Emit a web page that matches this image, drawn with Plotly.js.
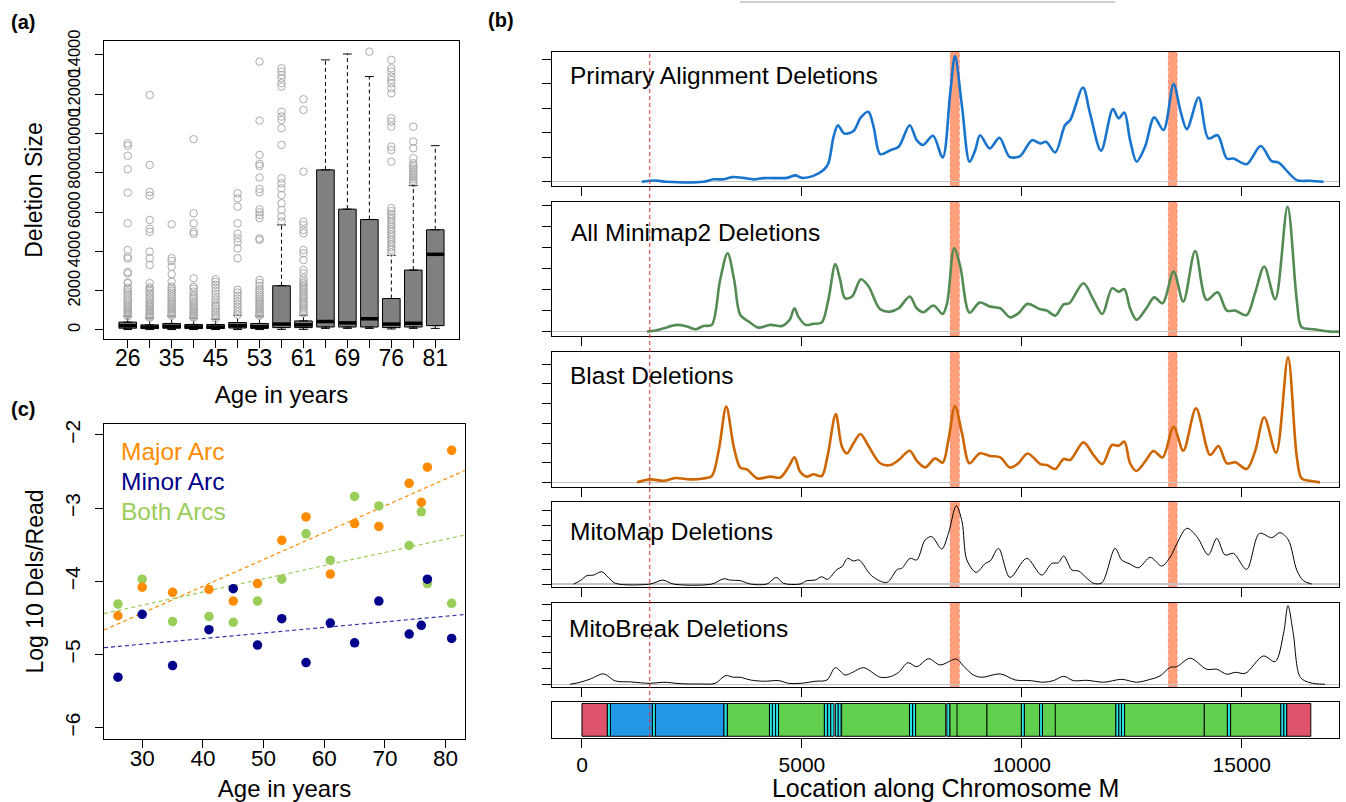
<!DOCTYPE html>
<html><head><meta charset="utf-8">
<script src="https://cdn.plot.ly/plotly-3.0.1.min.js"></script>
<style>html,body{margin:0;padding:0;background:#fff}#chart{width:1346px;height:802px}</style>
</head><body><div id="chart"></div>
<script>
// ---------- Panel (a): deletion size by age ----------
const ages = [26,30,35,41,45,49,53,57,61,65,69,74,76,77,81];
const ageTickText = ['26','','35','','45','','53','','61','','69','','76','','81'];
const boxQ1   = [90,70,90,70,70,100,80,120,120,150,150,150,120,150,220];
const boxMed  = [220,140,180,150,150,220,170,300,260,430,360,570,300,340,3850];
const boxQ3   = [400,260,330,280,280,380,330,2250,460,8150,6150,5620,1600,3050,5100];
const whiskLow  = [20,20,20,20,20,20,20,30,30,80,80,80,50,80,80];
const whiskHigh = [700,600,700,600,550,750,700,5350,750,13750,14050,12900,3800,7350,9380];
const outliers = [
  [700,760,820,880,950,1020,1100,1180,1260,1350,1450,1550,1650,1750,1850,1950,2050,2150,2380,2420,2880,2950,3630,3720,4070,5430,6990,8180,8870,9380,9500],
  [620,680,740,800,870,940,1010,1080,1160,1240,1320,1400,1500,1600,1700,1800,1900,2000,2100,2170,2380,3310,3650,3990,5000,5150,5600,6840,7020,8400,11960],
  [720,780,840,900,970,1040,1110,1180,1260,1340,1420,1500,1600,1700,1800,1900,2000,2100,2200,2460,2840,3220,3510,3650,5380],
  [620,680,740,800,860,920,990,1060,1140,1220,1310,1400,1500,1600,1700,1800,1950,2100,2200,2630,4890,5000,5430,5940,9710],
  [580,680,780,880,980,1080,1180,1280,1420,1560,1700,1850,2000,2150,2300,2450,2580],
  [780,900,1040,1180,1320,1460,1600,1750,1900,2040,3650,4150,4470,4670,4900,5430,6280,6700,6960],
  [720,780,840,900,970,1040,1110,1180,1260,1340,1420,1500,1600,1700,1800,1900,2000,2100,2250,2400,2550,4580,4660,5690,5850,5990,6140,7010,7180,7760,8350,8450,8910,10660,13660],
  [5520,5770,6110,6450,6870,7210,7470,7720,9420,10270,10690,10860,11110,12390,12560,12810,12980,13150,13320],
  [850,940,1030,1120,1210,1300,1390,1480,1570,1660,1750,1840,1930,2020,2110,2200,2290,2380,2470,2630,2885,3055,3560,3900,4070,4920,5090,5345,5515,8060,11200,11745],
  [],
  [],
  [14170],
  [3950,4080,4210,4340,4470,4600,4730,4860,4990,5120,5250,5380,5510,5640,5770,5900,6050,6200,8570,9160,9330,10350,10600,10780,12050,12300,12560,12730,12900,13150,13320,13750],
  [7480,7580,7680,7780,7880,7980,8080,8180,8280,8380,8490,8740,9250,9590,10350],
  []
];

// ---------- Panel (c): log10 deletions per read ----------
const majorArc = [-4.47,-4.08,-4.15,-4.11,-4.27,-4.03,-3.44,-3.12,-3.90,-3.21,-3.25,-2.66,-2.92,-2.44,-2.21];
const minorArc = [-5.31,-4.45,-5.15,-4.66,-4.10,-4.87,-4.51,-5.11,-4.57,-4.84,-4.27,-4.72,-4.60,-3.97,-4.78];
const bothArcs = [-4.31,-3.97,-4.55,-4.48,-4.56,-4.27,-3.97,-3.35,-3.71,-2.84,-2.97,-3.51,-3.05,-4.03,-4.30];
const arcNames = ['Major Arc','Minor Arc','Both Arcs'];

// ---------- Panel (b): deletion densities along chrM ----------
const primaryPos  = [1360,1670,1930,2760,2990,3220,3410,3670,3900,4130,4660,4850,5000,5260,5490,5600,5720,5820,5960,6170,6340,6510,6630,6780,7010,7200,7450,7610,7750,7980,8200,8370,8480,8640,8810,8940,9050,9270,9490,9720,9960,10230,10420,10550,10760,10980,11100,11390,11550,11800,12070,12200,12330,12460,12610,12800,13010,13220,13450,13600,13750,14020,14240,14450,14660,14810,15110,15430,15680,15830,16250,16550,16860];
const primaryDens = [0,0.05,0,0,0.1,0.1,0.19,0.16,0.1,0.15,0.16,0.26,0.16,0.24,0.48,0.75,1.84,2.31,1.97,2.07,2.63,2.86,2.24,1.13,1.29,1.43,2.31,1.70,1.50,1.88,0.99,3.6,5.13,3.06,0.82,1.29,1.90,1.36,1.80,1.02,1.05,1.70,1.56,1.63,1.20,2.31,2.52,3.85,2.79,1.27,2.97,2.59,2.83,1.70,0.82,1.43,2.63,2.11,3.99,2.93,2.15,3.44,1.77,1.90,0.95,0.95,0.72,1.46,0.84,0.79,0.07,0.04,0];
const minimapPos  = [1480,1670,1860,2160,2390,2580,2760,2950,3140,3310,3460,3600,3790,4010,4280,4550,4720,4830,4920,5080,5260,5450,5600,5760,5870,5980,6140,6340,6510,6780,7010,7200,7450,7610,7760,7990,8200,8300,8460,8600,8810,9040,9280,9510,9730,9920,10130,10420,10570,10760,10950,11080,11400,11630,11830,12050,12200,12330,12460,12610,12830,13010,13200,13450,13670,13940,14200,14450,14660,14850,15110,15300,15510,15760,16040,16250,16360,16630,17010,17210];
const minimapDens = [0,0.05,0.16,0.32,0.24,0.11,0.27,0.32,2.46,3.73,2.46,0.79,0.48,0.19,0.32,0.27,0.56,1.11,0.71,0.32,0.37,0.43,1.51,3.22,2.46,1.59,1.67,2.49,2.17,1.06,0.95,1.11,1.67,1.11,0.92,1.24,0.84,1.35,3.97,3.10,0.90,1.38,1.19,1.11,0.68,0.87,1.32,1.06,1.0,0.76,1.30,1.35,2.30,1.51,0.84,2.06,1.90,2.02,1.11,0.56,1.11,1.63,1.35,2.86,1.43,3.84,1.51,1.87,1.0,1.0,0.79,1.83,3.10,1.54,5.95,1.51,0.21,0.11,0,0];
const blastPos  = [1250,1550,1860,2120,2460,2760,2950,3110,3280,3450,3600,3750,3990,4280,4510,4700,4830,4960,5110,5260,5450,5580,5770,5910,6020,6170,6330,6510,6780,7010,7200,7450,7610,7800,8030,8200,8330,8480,8640,8810,9040,9280,9510,9730,9920,10130,10420,10570,10760,10950,11100,11400,11630,11830,12050,12200,12330,12460,12600,12800,12990,13200,13450,13670,13960,14280,14470,14660,14850,15110,15300,15510,15780,16050,16250,16360,16550,16780];
const blastDens = [0,0.15,0.08,0.22,0.15,0.2,0.32,1.64,3.85,1.81,0.75,0.66,0.2,0.29,0.25,0.80,1.27,0.54,0.29,0.41,0.32,1.31,3.47,1.81,1.47,1.98,2.46,1.86,0.97,0.88,1.14,1.61,1.10,0.76,1.22,1.0,2.15,3.88,2.49,0.97,1.47,1.34,1.27,0.76,0.97,1.47,0.93,0.88,0.68,1.19,1.14,2.03,1.39,0.93,1.90,1.86,2.07,0.97,0.58,1.05,1.59,1.27,2.83,1.61,3.76,1.39,1.85,0.97,1.02,0.68,1.56,3.31,1.51,6.36,1.31,0.2,0.08,0];
const mitomapPos  = [-190,-40,110,260,450,600,760,1550,1840,2080,2950,3220,3370,3600,3830,4200,4420,4580,4960,5110,5300,5450,5580,5800,5910,6040,6170,6300,6590,6930,7170,7270,7460,7610,7800,7950,8180,8330,8510,8640,8750,8960,9170,9280,9470,9730,10110,10450,10680,10830,10950,11140,11290,11480,11630,11820,12120,12270,12460,12650,12920,13180,13370,13520,13750,13980,14240,14430,14620,14810,15110,15400,15680,15870,16060,16250,16400,16590];
const mitomapDens = [0,0.23,0.57,0.61,0.84,0.45,0.05,0,0.27,0,0,0.36,0.27,0.23,0,0,0.45,0.05,0,0.23,0.27,0.5,0.32,1.0,1.18,1.75,1.57,1.64,0.55,0.11,1.0,1.07,1.75,1.64,3.0,3.23,2.39,3.45,5.34,4.25,1.64,0.80,1.41,1.57,2.43,0.45,1.75,0.61,1.41,1.45,1.91,0.95,0.89,0.39,0.05,0.09,2.43,1.64,1.36,1.11,1.82,1.23,1.82,2.73,3.80,3.23,1.98,3.11,1.98,2.09,1.0,3.45,3.16,3.5,3.0,0.95,0.23,0];
const mitobreakPos  = [-270,-40,190,490,760,1100,1550,1860,2230,2690,3030,3260,3450,3600,3830,4130,4470,4700,5040,5300,5570,5760,5980,6140,6400,6780,7010,7200,7410,7610,7880,8140,8510,8670,8900,9090,9510,9850,10190,10490,10720,10950,11170,11480,11860,12270,12610,12920,13140,13370,13520,13830,14200,14430,14660,14850,15080,15490,15760,15950,16050,16170,16330,16550,16890];
const mitobreakDens = [0,0.13,0.33,0.65,0.21,0.15,0.06,0.13,0.04,0.02,0.06,0.54,0.44,0.44,0.27,0.19,0.23,0.06,0.08,0.19,0.27,1.04,0.58,0.73,1.04,0.44,0.48,0.75,1.35,1.10,1.60,1.21,1.58,1.15,0.58,0.44,0.65,0.27,0.23,0.13,0.23,0.5,0.23,0.25,0.13,0.31,0.13,0.31,0.52,1.06,1.10,1.63,0.94,0.94,0.63,0.75,0.69,1.77,1.42,3.19,4.92,3.19,0.44,0.10,0];
const densityTitles = ['Primary Alignment Deletions','All Minimap2 Deletions','Blast Deletions','MitoMap Deletions','MitoBreak Deletions'];
const bandStart = [8370,13330];
const bandEnd   = [8580,13530];
const markerPos = 1540;

// chrM annotation (rCRS)
const geneStart = [1,577,648,1602,1671,3230,3307,4263,4329,4402,4470,5512,5587,5657,5761,5826,5904,7446,7518,7586,8295,8366,8527,9207,9991,10059,10405,10470,10760,12138,12207,12266,12337,14149,14674,14747,15888,15956,16024];
const geneEnd   = [576,647,1601,1670,3229,3304,4262,4331,4400,4469,5511,5579,5655,5729,5826,5891,7445,7514,7585,8269,8364,8572,9207,9990,10058,10404,10469,10766,12137,12206,12265,12336,14148,14673,14742,15887,15953,16023,16569];
const geneType  = ['D','t','r','t','r','t','p','t','t','t','p','t','t','t','t','t','p','t','t','p','t','p','p','p','t','p','t','p','p','t','t','t','p','p','t','p','t','t','D'];

// ---------- helpers ----------
const W = 1346, H = 802;
const px = v => v / W;
const py = v => 1 - v / H;
const FONT = 'Liberation Sans, Arial, Helvetica, sans-serif';
const typeColor = {D:'#DF536B', t:'#28E2E5', r:'#2297E6', p:'#61D04F'};

const traces = [];
const boxPos = ages.map((a, i) => i + 1);

// boxes
traces.push({type:'box', x: boxPos, q1: boxQ1, median: boxMed, q3: boxQ3,
  lowerfence: boxQ1, upperfence: boxQ3, width: 0.8, boxpoints: false,
  fillcolor: '#808080', line: {color: '#000', width: 1}, xaxis: 'x', yaxis: 'y', hoverinfo: 'skip'});
const wx = [], wy = [], cx = [], cy = [], mx = [], my = [];
boxPos.forEach((p, i) => {
  wx.push(p, p, null, p, p, null);
  wy.push(boxQ3[i], whiskHigh[i], null, boxQ1[i], whiskLow[i], null);
  cx.push(p - 0.2, p + 0.2, null, p - 0.2, p + 0.2, null);
  cy.push(whiskHigh[i], whiskHigh[i], null, whiskLow[i], whiskLow[i], null);
  mx.push(p - 0.4, p + 0.4, null);
  my.push(boxMed[i], boxMed[i], null);
});
traces.push({type:'scatter', mode:'lines', x: wx, y: wy, line:{color:'#000', width:1, dash:'4px,3px'}, xaxis:'x', yaxis:'y'});
traces.push({type:'scatter', mode:'lines', x: cx, y: cy, line:{color:'#000', width:1}, xaxis:'x', yaxis:'y'});
traces.push({type:'scatter', mode:'lines', x: mx, y: my, line:{color:'#000', width:3.5}, xaxis:'x', yaxis:'y'});
const ox = [], oy = [];
outliers.forEach((arr, i) => arr.forEach(v => { ox.push(boxPos[i]); oy.push(v); }));
traces.push({type:'scatter', mode:'markers', x: ox, y: oy,
  marker:{symbol:'circle-open', size:7.5, color:'#ABABAB', line:{width:1, color:'#ABABAB'}}, xaxis:'x', yaxis:'y'});

// panel (c)
const arcSeries = [majorArc, minorArc, bothArcs];
const arcColors = ['#FF8C00', '#00008B', '#9ACD5A'];
const lineColors = ['#FF8C00', '#3333AA', '#9ACD5A'];
const cRange = [23.7, 83.2];
function ols(x, y) {
  const n = x.length;
  const mxv = x.reduce((a, b) => a + b, 0) / n, myv = y.reduce((a, b) => a + b, 0) / n;
  let sxx = 0, sxy = 0;
  for (let i = 0; i < n; i++) { sxx += (x[i] - mxv) ** 2; sxy += (x[i] - mxv) * (y[i] - myv); }
  const b = sxy / sxx; return [myv - b * mxv, b];
}
arcSeries.forEach((s, k) => {
  const [a, b] = ols(ages, s);
  traces.push({type:'scatter', mode:'lines', x: cRange, y: cRange.map(v => a + b * v),
    line:{color: lineColors[k], width:1.2, dash:'4px,3px'}, xaxis:'x2', yaxis:'y2'});
});
[2, 0, 1].forEach(k => {
  traces.push({type:'scatter', mode:'markers', x: ages, y: arcSeries[k],
    marker:{size:9.5, color: arcColors[k]}, xaxis:'x2', yaxis:'y2'});
});

// densities
const densSets = [
  {x: primaryPos, y: primaryDens, color:'#1874CD', w:2.6},
  {x: minimapPos, y: minimapDens, color:'#548B54', w:2.6},
  {x: blastPos, y: blastDens, color:'#CD6600', w:2.6},
  {x: mitomapPos, y: mitomapDens, color:'#000000', w:1},
  {x: mitobreakPos, y: mitobreakDens, color:'#000000', w:1}
];
densSets.forEach((d, i) => {
  traces.push({type:'scatter', mode:'lines', x: d.x, y: d.y,
    line:{color: d.color, width: d.w, shape:'spline', smoothing:0.9},
    xaxis:'x' + (i + 3), yaxis:'y' + (i + 3)});
});
// genome bar
traces.push({type:'bar', orientation:'h', y: geneStart.map(() => 0),
  base: geneStart.map(v => v - 1), x: geneStart.map((s, i) => geneEnd[i] - s + 1),
  width: 0.92, marker:{color: geneType.map(t => typeColor[t]), line:{color:'#000', width:1}},
  xaxis:'x8', yaxis:'y8', hoverinfo:'skip'});

// ---------- layout ----------
const baseAxis = {showline:true, mirror:true, linecolor:'#000', linewidth:1, ticks:'outside', ticklen:8,
  tickcolor:'#000', tickwidth:1, showgrid:false, zeroline:false, fixedrange:true,
  tickfont:{family:FONT, size:22, color:'#000'}};
const layout = {
  width: W, height: H, margin:{l:0, r:0, t:0, b:0}, paper_bgcolor:'#fff', plot_bgcolor:'rgba(0,0,0,0)',
  showlegend:false, hovermode:false, font:{family:FONT, color:'#000'},
  xaxis: Object.assign({}, baseAxis, {domain:[px(104), px(459)], range:[-0.08, 16.08], tickvals: boxPos, ticktext: ageTickText,
    tickfont:{family:FONT, size:23}, ticklabelstandoff:-10, title:{text:'Age in years', font:{size:24}, standoff:16}, anchor:'y'}),
  yaxis: Object.assign({}, baseAxis, {domain:[py(339), py(41)], range:[-460, 14710], tickvals:[0,2000,4000,6000,8000,10000,12000,14000],
    tickformat:'d', tickangle:-90, tickfont:{family:FONT, size:16.5}, ticklabelstandoff:8, title:{text:'Deletion Size', font:{size:23}, standoff:16}, anchor:'x'}),
  xaxis2: Object.assign({}, baseAxis, {domain:[px(104), px(465)], range: cRange, tickvals:[30,40,50,60,70,80],
    tickfont:{family:FONT, size:22.5}, ticklabelstandoff:-9, title:{text:'Age in years', font:{size:24}, standoff:37}, anchor:'y2'}),
  yaxis2: Object.assign({}, baseAxis, {domain:[py(739), py(424)], range:[-6.154, -1.85], tickvals:[-6,-5,-4,-3,-2],
    tickangle:-90, tickfont:{family:FONT, size:21}, ticklabelstandoff:7, title:{text:'Log 10 Dels/Read', font:{size:23}, standoff:10}, anchor:'x2'}),
  shapes: [], annotations: []
};
const densDomains = [[185.7, 51.7], [336, 202.3], [486.7, 352.3], [586.7, 502.3], [686.7, 602.7]];
const densRanges = [[-0.16, 5.31], [-0.21, 6.16], [-0.22, 6.61], [-0.18, 5.57], [-0.15, 5.10]];
const densTicks = [[0,1,2,3,4,5], [0,1,2,3,4,5,6], [0,1,2,3,4,5,6], [0,1,2,3,4,5], [0,1,2,3,4,5]];
const bRange = [-675, 17210];
const titleY = [75.7, 232.7, 375.7, 531.7, 628.3];
const titleX = [568, 569, 568, 568, 567];
for (let i = 0; i < 5; i++) {
  const n = i + 3;
  layout['xaxis' + n] = Object.assign({}, baseAxis, {domain:[px(552.3), px(1339)], range: bRange,
    tickvals:[0,5000,10000,15000], showticklabels:false, ticklen:9, anchor:'y' + n});
  layout['yaxis' + n] = Object.assign({}, baseAxis, {domain:[py(densDomains[i][0]), py(densDomains[i][1])], range: densRanges[i],
    tickvals: densTicks[i], showticklabels:false, ticklen:9, zeroline:true, zerolinecolor:'#C4C4C4', zerolinewidth:1.2, anchor:'x' + n});
  bandStart.forEach((b, j) => {
    layout.shapes.push({type:'rect', layer:'below', xref:'x' + n, yref:'y' + n + ' domain', x0: b, x1: bandEnd[j], y0:0, y1:1,
      fillcolor:'#FFA07A', line:{color:'rgba(255,90,90,0.5)', width:1, dash:'dot'}});
  });
  layout.annotations.push({xref:'paper', yref:'paper', x: px(titleX[i]), y: py(titleY[i]), xanchor:'left', yanchor:'middle',
    text: densityTitles[i], showarrow:false, font:{family:FONT, size:24.5, color:'#000'}});
}
layout.xaxis8 = Object.assign({}, baseAxis, {domain:[px(552.3), px(1339)], range: bRange, tickvals:[0,5000,10000,15000], ticklen:9,
  tickformat:'d', tickfont:{family:FONT, size:21}, ticklabelstandoff:-1,
  title:{text:'Location along Chromosome M', font:{family:FONT, size:25}, standoff:3}, anchor:'y8'});
layout.yaxis8 = Object.assign({}, baseAxis, {domain:[py(737.7), py(702)], range:[-0.5, 0.5], showticklabels:false, ticks:'', anchor:'x8'});

// vertical dashed marker across panel (b)
layout.shapes.push({type:'line', layer:'above', xref:'x3', yref:'paper', x0: markerPos, x1: markerPos, y0: py(737), y1: py(51.7),
  line:{color:'rgba(235,45,45,0.85)', width:1.2, dash:'4px,3px'}});
// faint rule at top
layout.shapes.push({type:'line', xref:'paper', yref:'paper', x0: px(740), x1: px(1115), y0: py(2), y1: py(2),
  line:{color:'#D0D0D0', width:2}});

// panel letters & legend
layout.annotations.push({xref:'paper', yref:'paper', x: px(9), y: py(22), xanchor:'left', yanchor:'middle', text:'<b>(a)</b>', showarrow:false, font:{size:20}});
layout.annotations.push({xref:'paper', yref:'paper', x: px(486), y: py(20), xanchor:'left', yanchor:'middle', text:'<b>(b)</b>', showarrow:false, font:{size:20}});
layout.annotations.push({xref:'paper', yref:'paper', x: px(9), y: py(409), xanchor:'left', yanchor:'middle', text:'<b>(c)</b>', showarrow:false, font:{size:20}});
const legY = [451.7, 481.7, 511.7];
arcNames.forEach((nm, k) => {
  layout.annotations.push({xref:'paper', yref:'paper', x: px(119), y: py(legY[k]), xanchor:'left', yanchor:'middle',
    text: nm, showarrow:false, font:{family:FONT, size:24.5, color: arcColors[k]}});
});

Plotly.newPlot('chart', traces, layout, {displayModeBar:false, staticPlot:true});
</script></body></html>
